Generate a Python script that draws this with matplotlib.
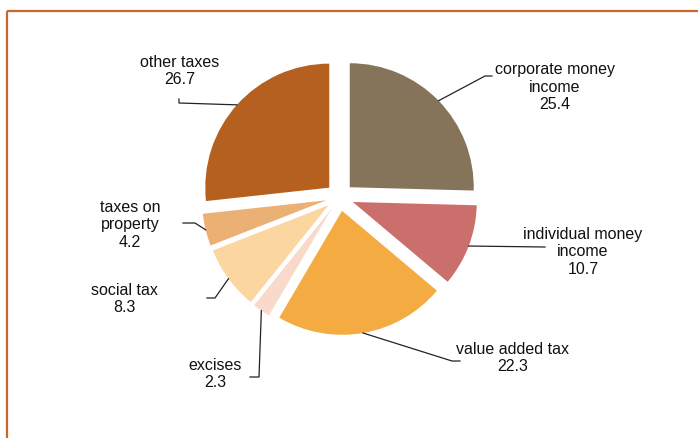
import numpy as np
import matplotlib.pyplot as plt
from matplotlib.patches import Rectangle

# tax revenue structure, %
labels = ["corporate money\nincome", "individual money\nincome", "value added tax",
          "excises", "social tax", "taxes on\nproperty", "other taxes"]
shares = [25.4, 10.7, 22.3, 2.3, 8.3, 4.2, 26.7]
colors = ["#85745a", "#cb6f6c", "#f4ac42", "#f9d9ca", "#fbd6a1", "#ebb073", "#b5601f"]

# label placement in pixel coords (text centre, elbow of the leader, end of leader)
text_xy = [(555, 87), (583, 252), (513, 358), (215, 374), (124, 299), (130, 225), (180, 71)]
elbow_xy = [(485, 76), (545, 247), (452, 361), (259, 377), (215, 298), (195, 223), (179, 103)]
end_xy = [(492, 76), (545, 247), (460, 361), (250, 377), (207, 298), (183, 223), (179, 99)]

W, H = 698, 438
plt.rcParams['font.family'] = ['Liberation Sans', 'DejaVu Sans']
fig = plt.figure(figsize=(W / 100, H / 100), dpi=100)
ax = fig.add_axes([0, 0, 1, 1])

radius = 124
gap = 14
wedges, _ = ax.pie(shares, colors=colors, radius=radius, center=(339.7, 197),
                   explode=[gap] * len(shares), startangle=-90, counterclock=True,
                   wedgeprops=dict(linewidth=0))

ax.set_xlim(0, W)
ax.set_ylim(H, 0)
ax.set_aspect('equal')
ax.axis('off')

# frame round the chart (only top and left show)
ax.add_patch(Rectangle((7, 11), W + 20, H + 20, fill=False, edgecolor="#c8692c",
                       linewidth=1.6, zorder=5))

for w, lab, val, txy, exy, nxy in zip(wedges, labels, shares, text_xy, elbow_xy, end_xy):
    tm = np.deg2rad(0.5 * (w.theta1 + w.theta2))
    cx, cy = w.center
    sx = cx + w.r * np.cos(tm)
    sy = cy + w.r * np.sin(tm)
    ax.plot([sx, exy[0], nxy[0]], [sy, exy[1], nxy[1]], color="#222222", lw=0.9)
    ax.text(txy[0], txy[1], lab + "\n" + str(val), ha='center', va='center',
            fontsize=11.5, linespacing=1.17, color="#111111")

fig.savefig("out.png", dpi=100)
